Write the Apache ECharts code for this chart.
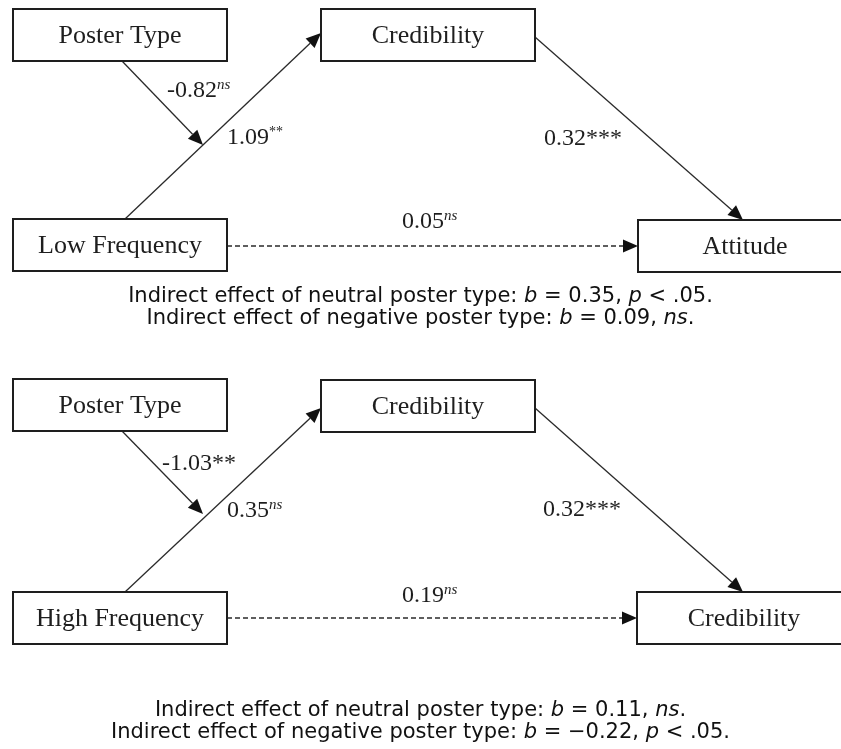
<!DOCTYPE html>
<html>
<head>
<meta charset="utf-8">
<script src="https://cdn.jsdelivr.net/npm/echarts@6/dist/echarts.min.js"></script>
<style>
  html, body { margin: 0; padding: 0; background: #fff; }
  #chart { width: 841px; height: 749px; }
</style>
</head>
<body>
<div id="chart"></div>
<script>
  // variables in each panel: predictor, moderator, mediator, outcome
  const lowNodes = ['Poster Type', 'Credibility', 'Low Frequency', 'Attitude'];
  const highNodes = ['Poster Type', 'Credibility', 'High Frequency', 'Credibility'];

  // path coefficients: moderation, a path, b path, direct path
  const lowCoefs = ['-0.82', '1.09', '0.32', '0.05'];
  const lowSig = ['ns', '**', '***', 'ns'];
  const highCoefs = ['-1.03', '0.35', '0.32', '0.19'];
  const highSig = ['**', 'ns', '***', 'ns'];

  const lowNotes = [
    'Indirect effect of neutral poster type: {i|b} = 0.35, {i|p} < .05.',
    'Indirect effect of negative poster type: {i|b} = 0.09, {i|ns}.'
  ];
  const highNotes = [
    'Indirect effect of neutral poster type: {i|b} = 0.11, {i|ns}.',
    'Indirect effect of negative poster type: {i|b} = \u22120.22, {i|p} < .05.'
  ];

  // ---- layout (pixel space of the hidden axes) ----
  const BOX_W = 214, BOX_H = 52;
  const panels = [
    {
      nodes: lowNodes, coefs: lowCoefs, sig: lowSig,
      boxes: [[120, 35], [428, 35], [120, 245], [745, 246]],
      paths: [
        [122, 61, 203, 145, 0],
        [125, 219, 321, 33, 0],
        [535, 37, 743, 220, 0],
        [227, 246, 638, 246, 1]
      ],
      labels: [[167, 91], [227, 138], [544, 139], [402, 222]],
      sigStyle: ['ns', 'sup', 'ast', 'ns']
    },
    {
      nodes: highNodes, coefs: highCoefs, sig: highSig,
      boxes: [[120, 405], [428, 406], [120, 618], [744, 618]],
      paths: [
        [122, 431, 203, 514, 0],
        [125, 592, 321, 408, 0],
        [535, 408, 743, 592, 0],
        [227, 618, 637, 618, 1]
      ],
      labels: [[162, 464], [227, 511], [543, 510], [402, 596]],
      sigStyle: ['ast', 'ns', 'ast', 'ns']
    }
  ];

  const SERIF = '"Liberation Serif", "Times New Roman", serif';
  const SANS = '"DejaVu Sans", Verdana, sans-serif';
  const INK = '#1e1e1e';

  const chart = echarts.init(document.getElementById('chart'));

  function boxSeries(p) {
    return {
      type: 'custom',
      coordinateSystem: 'cartesian2d',
      clip: false,
      z: 3,
      data: p.boxes,
      renderItem(params, api) {
        const c = api.coord([api.value(0), api.value(1)]);
        const s = api.size([BOX_W, BOX_H]);
        return {
          type: 'group',
          children: [
            {
              type: 'rect',
              shape: { x: c[0] - s[0] / 2, y: c[1] - s[1] / 2, width: s[0], height: s[1] },
              style: { fill: '#fff', stroke: INK, lineWidth: 2 }
            },
            {
              type: 'text',
              style: {
                x: c[0], y: c[1] + 1,
                text: p.nodes[params.dataIndex],
                fill: INK,
                fontFamily: SERIF,
                fontSize: 26,
                align: 'center', verticalAlign: 'middle',
                textAlign: 'center', textVerticalAlign: 'middle'
              }
            }
          ]
        };
      }
    };
  }

  function pathSeries(p) {
    return {
      type: 'custom',
      coordinateSystem: 'cartesian2d',
      clip: false,
      z: 2,
      data: p.paths,
      renderItem(params, api) {
        const a = api.coord([api.value(0), api.value(1)]);
        const b = api.coord([api.value(2), api.value(3)]);
        const dashed = api.value(4) === 1;
        const dx = b[0] - a[0], dy = b[1] - a[1];
        const len = Math.sqrt(dx * dx + dy * dy);
        const ux = dx / len, uy = dy / len;
        const headL = 15, headW = 6.5;
        const bx = b[0] - ux * headL, by = b[1] - uy * headL;
        return {
          type: 'group',
          children: [
            {
              type: 'line',
              shape: { x1: a[0], y1: a[1], x2: bx, y2: by },
              style: { stroke: '#2a2a2a', lineWidth: 1.3, lineDash: dashed ? [5, 3] : null }
            },
            {
              type: 'polygon',
              shape: {
                points: [
                  [b[0], b[1]],
                  [bx - uy * headW, by + ux * headW],
                  [bx + uy * headW, by - ux * headW]
                ]
              },
              style: { fill: '#111' }
            }
          ]
        };
      }
    };
  }

  function labelSeries(p) {
    return {
      type: 'custom',
      coordinateSystem: 'cartesian2d',
      clip: false,
      z: 4,
      data: p.labels,
      renderItem(params, api) {
        const c = api.coord([api.value(0), api.value(1)]);
        const i = params.dataIndex;
        return {
          type: 'text',
          style: {
            x: c[0], y: c[1],
            text: '{v|' + p.coefs[i] + '}{' + p.sigStyle[i] + '|' + p.sig[i] + '}',
            align: 'left', verticalAlign: 'middle',
            textAlign: 'left', textVerticalAlign: 'middle',
            rich: {
              v: { fontFamily: SERIF, fontSize: 24, lineHeight: 26, fill: INK, color: INK },
              ns: { fontFamily: SERIF, fontSize: 15, fontStyle: 'italic', fill: INK, color: INK, verticalAlign: 'top', lineHeight: 15 },
              sup: { fontFamily: SERIF, fontSize: 14, fill: INK, color: INK, verticalAlign: 'top', lineHeight: 14 },
              ast: { fontFamily: SERIF, fontSize: 24, fill: INK, color: INK, lineHeight: 26 }
            }
          }
        };
      }
    };
  }

  function noteTitle(text, top) {
    return {
      text: text,
      left: 'center',
      top: top,
      padding: 0,
      textStyle: {
        fontFamily: SANS, fontSize: 21, fontWeight: 'normal', color: '#111', lineHeight: 22,
        rich: {
          i: { fontFamily: SANS, fontSize: 21, fontStyle: 'italic', color: '#111', lineHeight: 22 }
        }
      }
    };
  }

  const series = [];
  panels.forEach(p => {
    series.push(pathSeries(p), boxSeries(p), labelSeries(p));
  });

  chart.setOption({
    animation: false,
    backgroundColor: '#fff',
    title: [
      noteTitle(lowNotes[0], 286),
      noteTitle(lowNotes[1], 308),
      noteTitle(highNotes[0], 700),
      noteTitle(highNotes[1], 722)
    ],
    grid: { left: 0, right: 0, top: 0, bottom: 0 },
    xAxis: { type: 'value', min: 0, max: 841, show: false },
    yAxis: { type: 'value', min: 0, max: 749, inverse: true, show: false },
    series: series
  });
</script>
</body>
</html>
